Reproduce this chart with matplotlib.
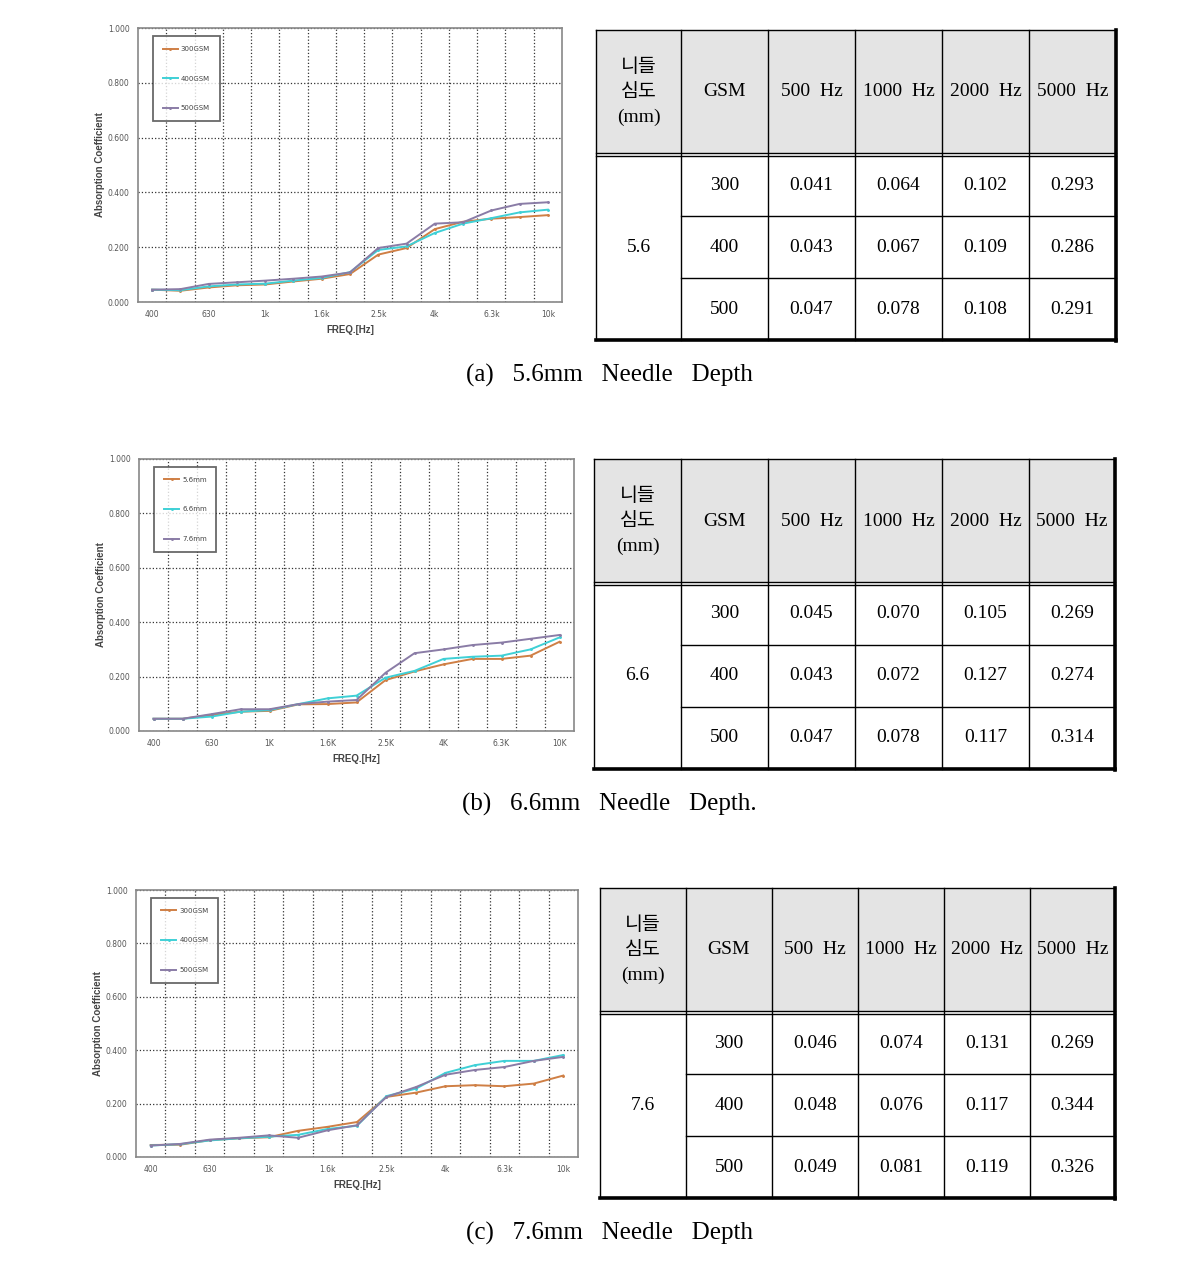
import matplotlib
matplotlib.use("Agg")
import matplotlib.pyplot as plt

W, H = 1180, 1268

# ---------------------------------------------------------
# Data
# ---------------------------------------------------------
bands = ['400', '500', '630', '800', '1k', '1.25k', '1.6k', '2k', '2.5k',
         '3.15k', '4k', '5k', '6.3k', '8k', '10k']
ticks_lower = ['400', '630', '1k', '1.6k', '2.5k', '4k', '6.3k', '10k']
ticks_upper = ['400', '630', '1K', '1.6K', '2.5K', '4K', '6.3K', '10K']

# (a) 5.6 mm, by GSM
a_300 = [0.045, 0.041, 0.053, 0.061, 0.064, 0.075, 0.085, 0.102, 0.173, 0.197, 0.266, 0.293, 0.304, 0.310, 0.317]
a_400 = [0.045, 0.043, 0.057, 0.064, 0.067, 0.078, 0.088, 0.109, 0.190, 0.203, 0.252, 0.286, 0.306, 0.327, 0.337]
a_500 = [0.045, 0.047, 0.066, 0.072, 0.078, 0.085, 0.093, 0.108, 0.197, 0.213, 0.286, 0.291, 0.334, 0.358, 0.364]

# (b) by needle depth
b_56 = [0.045, 0.045, 0.059, 0.071, 0.074, 0.098, 0.099, 0.105, 0.187, 0.219, 0.245, 0.265, 0.265, 0.277, 0.328]
b_66 = [0.045, 0.045, 0.053, 0.071, 0.077, 0.099, 0.120, 0.130, 0.196, 0.221, 0.265, 0.273, 0.277, 0.300, 0.344]
b_76 = [0.045, 0.045, 0.062, 0.080, 0.080, 0.099, 0.108, 0.114, 0.214, 0.286, 0.300, 0.316, 0.325, 0.339, 0.353]

# (c) 7.6 mm, by GSM
c_300 = [0.045, 0.046, 0.063, 0.070, 0.074, 0.098, 0.113, 0.131, 0.225, 0.241, 0.265, 0.269, 0.265, 0.275, 0.305]
c_400 = [0.043, 0.048, 0.062, 0.070, 0.076, 0.083, 0.105, 0.117, 0.228, 0.256, 0.315, 0.344, 0.360, 0.360, 0.382]
c_500 = [0.043, 0.049, 0.065, 0.072, 0.081, 0.072, 0.100, 0.119, 0.225, 0.262, 0.308, 0.326, 0.337, 0.360, 0.375]

gsm_labels = ['300GSM', '400GSM', '500GSM']
depth_labels = ['5.6mm', '6.6mm', '7.6mm']

# tables
header = ['니들\n심도\n(mm)', 'GSM', '500  Hz', '1000  Hz', '2000  Hz', '5000  Hz']
gsm_rows = ['300', '400', '500']
t1_vals = [[0.041, 0.064, 0.102, 0.293], [0.043, 0.067, 0.109, 0.286], [0.047, 0.078, 0.108, 0.291]]
t2_vals = [[0.045, 0.070, 0.105, 0.269], [0.043, 0.072, 0.127, 0.274], [0.047, 0.078, 0.117, 0.314]]
t3_vals = [[0.046, 0.074, 0.131, 0.269], [0.048, 0.076, 0.117, 0.344], [0.049, 0.081, 0.119, 0.326]]

captions = ['(a)   5.6mm   Needle   Depth', '(b)   6.6mm   Needle   Depth.', '(c)   7.6mm   Needle   Depth']

colors = ['#cf7f45', '#3fd0d6', '#8a7ca6']
SERIF = ['Liberation Serif', 'Noto Sans CJK KR']

# ---------------------------------------------------------
# Helpers
# ---------------------------------------------------------

def px_rect(x0, y0, x1, y1):
    return [x0 / W, 1 - y1 / H, (x1 - x0) / W, (y1 - y0) / H]


def draw_chart(fig, box, series, labels, xticklabels):
    ax = fig.add_axes(px_rect(*box))
    x = list(range(len(bands)))
    for s, lab, c in zip(series, labels, colors):
        ax.plot(x, s, color=c, lw=1.4, marker='o', ms=1.1, label=lab)
    ax.set_xlim(-0.5, len(bands) - 0.5)
    ax.set_ylim(0, 1.0)
    ax.set_xticks(x[::2])
    ax.set_xticklabels(xticklabels)
    ax.set_yticks([0, 0.2, 0.4, 0.6, 0.8, 1.0])
    ax.set_yticklabels(['%.3f' % v for v in [0, 0.2, 0.4, 0.6, 0.8, 1.0]])
    ax.tick_params(length=0, labelsize=5.5, colors='#555555', pad=6)
    ax.set_xticks([i + 0.5 for i in x[:-1]], minor=True)
    ax.tick_params(which='minor', length=0)
    ax.grid(True, which='minor', axis='x', ls=':', color='#333333', lw=0.9)
    ax.grid(True, which='major', axis='y', ls=':', color='#333333', lw=0.9)
    for sp in ax.spines.values():
        sp.set_color('#888888')
        sp.set_linewidth(1.2)
    ax.set_xlabel('FREQ.[Hz]', fontsize=7, fontweight='bold', color='#444444',
                  family='Liberation Sans', labelpad=4)
    ax.set_ylabel('Absorption Coefficient', fontsize=7, fontweight='bold',
                  color='#444444', family='Liberation Sans', labelpad=2)
    leg = ax.legend(loc='upper left', bbox_to_anchor=(0.035, 0.97), fontsize=5,
                    frameon=True, fancybox=False, edgecolor='#444444',
                    labelspacing=3.4, borderpad=1.4, handlelength=2.2,
                    handletextpad=0.4, borderaxespad=0)
    leg.get_frame().set_linewidth(1.3)
    for t in leg.get_texts():
        t.set_color('#444444')
    return ax


def draw_table(ax, cols, top, hbot, row_h, depth, vals):
    x0, x1 = cols[0], cols[-1]
    bottom = hbot + row_h * len(vals)
    ax.fill_between([x0, x1], top, hbot, color='#e4e4e4', lw=0)
    lw = 1.0
    ax.plot([x0, x1], [top, top], color='k', lw=lw)
    ax.plot([x0, x0], [top, bottom], color='k', lw=lw)
    for c in cols[1:-1]:
        ax.plot([c, c], [top, bottom], color='k', lw=lw)
    ax.plot([x0, x1], [hbot - 1.5, hbot - 1.5], color='k', lw=lw)
    ax.plot([x0, x1], [hbot + 1.5, hbot + 1.5], color='k', lw=lw)
    for i in range(1, len(vals)):
        y = hbot + row_h * i
        ax.plot([cols[1], x1], [y, y], color='k', lw=lw)
    ax.plot([x1, x1], [top, bottom + 1], color='k', lw=2.6, solid_capstyle='projecting')
    ax.plot([x0, x1], [bottom, bottom], color='k', lw=2.6, solid_capstyle='projecting')

    for j, h in enumerate(header):
        cx = (cols[j] + cols[j + 1]) / 2
        ax.text(cx, (top + hbot) / 2, h, ha='center', va='center',
                fontsize=14, family=SERIF, linespacing=1.6)
    ax.text((cols[0] + cols[1]) / 2, hbot + row_h * 1.5, depth,
            ha='center', va='center', fontsize=14, family=SERIF)
    for i, row in enumerate(vals):
        cy = hbot + row_h * (i + 0.5)
        ax.text((cols[1] + cols[2]) / 2, cy, gsm_rows[i], ha='center',
                va='center', fontsize=14, family=SERIF)
        for j, v in enumerate(row):
            cx = (cols[j + 2] + cols[j + 3]) / 2
            ax.text(cx, cy, '%.3f' % v, ha='center', va='center',
                    fontsize=14, family=SERIF)


# ---------------------------------------------------------
# Figure
# ---------------------------------------------------------
fig = plt.figure(figsize=(W / 100, H / 100), dpi=100)
fig.patch.set_facecolor('white')

ov = fig.add_axes([0, 0, 1, 1])
ov.set_xlim(0, W)
ov.set_ylim(H, 0)
ov.axis('off')

draw_chart(fig, (138, 28, 562, 302), [a_300, a_400, a_500], gsm_labels, ticks_lower)
draw_chart(fig, (139, 459, 574, 731), [b_56, b_66, b_76], depth_labels, ticks_upper)
draw_chart(fig, (136, 890, 578, 1157), [c_300, c_400, c_500], gsm_labels, ticks_lower)

draw_table(ov, [596, 681, 768, 855, 942, 1029, 1116], 30, 154, 62, '5.6', t1_vals)
draw_table(ov, [594, 681, 768, 855, 942, 1029, 1115], 459, 583, 62, '6.6', t2_vals)
draw_table(ov, [600, 686, 772, 858, 944, 1030, 1115], 888, 1012, 62, '7.6', t3_vals)

for y, cap in zip([375, 804, 1233], captions):
    ov.text(609, y, cap, ha='center', va='center', fontsize=18, family=SERIF)

fig.savefig('out.png', dpi=100, facecolor='white')
